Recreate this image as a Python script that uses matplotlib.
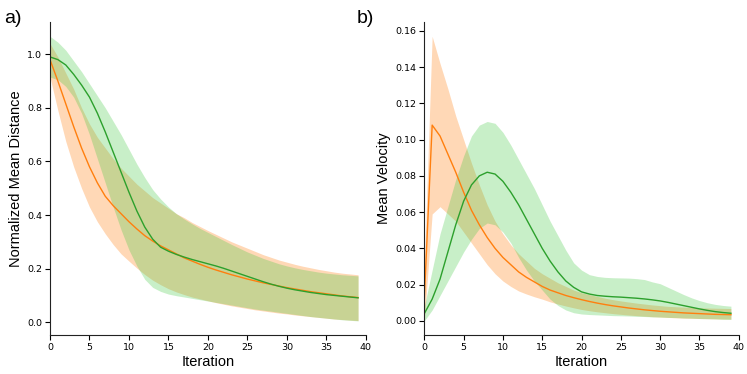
import numpy as np
import matplotlib
matplotlib.use("Agg")
import matplotlib.pyplot as plt

# iterations 0..39
iterations = list(range(40))

# a) normalized mean distance
dist_orange_mean = [0.98, 0.90, 0.815, 0.73, 0.65, 0.58, 0.52, 0.47, 0.435, 0.405,
                    0.375, 0.348, 0.323, 0.303, 0.285, 0.27, 0.255, 0.24, 0.228, 0.216,
                    0.205, 0.195, 0.186, 0.177, 0.169, 0.161, 0.154, 0.147, 0.141, 0.135,
                    0.129, 0.124, 0.119, 0.114, 0.110, 0.106, 0.102, 0.098, 0.095, 0.092]
dist_orange_lo = [0.915, 0.79, 0.675, 0.58, 0.50, 0.43, 0.375, 0.33, 0.29, 0.255,
                  0.228, 0.202, 0.178, 0.157, 0.14, 0.125, 0.113, 0.103, 0.094, 0.087,
                  0.08, 0.073, 0.067, 0.061, 0.056, 0.051, 0.046, 0.042, 0.038, 0.034,
                  0.031, 0.027, 0.024, 0.021, 0.018, 0.015, 0.012, 0.010, 0.008, 0.006]
dist_orange_hi = [1.04, 0.99, 0.93, 0.87, 0.80, 0.74, 0.69, 0.65, 0.61, 0.575,
                  0.545, 0.515, 0.49, 0.465, 0.445, 0.425, 0.405, 0.39, 0.372, 0.357,
                  0.342, 0.328, 0.314, 0.300, 0.288, 0.276, 0.264, 0.252, 0.242, 0.232,
                  0.224, 0.216, 0.209, 0.203, 0.197, 0.192, 0.187, 0.183, 0.180, 0.177]
dist_green_mean = [0.99, 0.98, 0.96, 0.925, 0.885, 0.84, 0.78, 0.71, 0.635, 0.56,
                   0.485, 0.415, 0.355, 0.31, 0.28, 0.265, 0.253, 0.243, 0.234, 0.226,
                   0.218, 0.21, 0.201, 0.191, 0.181, 0.171, 0.161, 0.151, 0.142, 0.134,
                   0.127, 0.121, 0.116, 0.111, 0.107, 0.103, 0.100, 0.097, 0.094, 0.091]
dist_green_lo = [0.915, 0.905, 0.88, 0.84, 0.78, 0.70, 0.61, 0.52, 0.43, 0.345,
                 0.27, 0.21, 0.16, 0.13, 0.115, 0.105, 0.099, 0.094, 0.089, 0.084,
                 0.079, 0.074, 0.069, 0.064, 0.059, 0.054, 0.049, 0.045, 0.041, 0.037,
                 0.033, 0.029, 0.025, 0.021, 0.018, 0.015, 0.012, 0.009, 0.007, 0.005]
dist_green_hi = [1.067, 1.045, 1.015, 0.975, 0.935, 0.89, 0.845, 0.80, 0.75, 0.70,
                 0.645, 0.59, 0.54, 0.495, 0.46, 0.43, 0.405, 0.385, 0.367, 0.35,
                 0.335, 0.32, 0.305, 0.29, 0.276, 0.262, 0.25, 0.238, 0.228, 0.218,
                 0.21, 0.203, 0.197, 0.192, 0.187, 0.183, 0.18, 0.177, 0.175, 0.173]

# b) mean velocity
vel_orange_mean = [0.012, 0.108, 0.102, 0.092, 0.082, 0.071, 0.061, 0.053, 0.046, 0.040,
                   0.035, 0.031, 0.027, 0.024, 0.0215, 0.019, 0.017, 0.0155, 0.014, 0.0128,
                   0.0117, 0.0107, 0.0098, 0.009, 0.0083, 0.0077, 0.0071, 0.0066, 0.0061, 0.0057,
                   0.0053, 0.005, 0.0047, 0.0044, 0.0042, 0.004, 0.0038, 0.0036, 0.0035, 0.0034]
vel_orange_lo = [0.0, 0.059, 0.063, 0.059, 0.055, 0.049, 0.043, 0.037, 0.031, 0.026,
                 0.022, 0.019, 0.0165, 0.0148, 0.0133, 0.012, 0.0105, 0.0093, 0.0082, 0.0072,
                 0.0063, 0.0056, 0.005, 0.0045, 0.004, 0.0036, 0.0032, 0.0029, 0.0026, 0.0023,
                 0.0021, 0.0019, 0.0017, 0.0015, 0.0014, 0.0013, 0.0012, 0.0011, 0.001, 0.001]
vel_orange_hi = [0.03, 0.157, 0.142, 0.128, 0.113, 0.100, 0.087, 0.075, 0.064, 0.055,
                 0.048, 0.042, 0.037, 0.033, 0.029, 0.026, 0.0235, 0.021, 0.019, 0.017,
                 0.0155, 0.0145, 0.0135, 0.0125, 0.0117, 0.011, 0.0104, 0.0098, 0.0093, 0.0088,
                 0.0084, 0.008, 0.0078, 0.0076, 0.0074, 0.0072, 0.0071, 0.007, 0.0069, 0.0068]
vel_green_mean = [0.004, 0.012, 0.023, 0.038, 0.053, 0.066, 0.075, 0.080, 0.082, 0.081,
                  0.077, 0.071, 0.064, 0.056, 0.048, 0.040, 0.033, 0.027, 0.022, 0.0185,
                  0.016, 0.0148, 0.014, 0.0136, 0.0133, 0.0131, 0.0128, 0.0125, 0.0121, 0.0116,
                  0.0110, 0.0102, 0.0093, 0.0084, 0.0075, 0.0066, 0.0058, 0.0051, 0.0046, 0.0042]
vel_green_lo = [0.0, 0.006, 0.014, 0.022, 0.030, 0.038, 0.045, 0.051, 0.054, 0.053,
                0.049, 0.043, 0.035, 0.028, 0.022, 0.017, 0.012, 0.0085, 0.006, 0.0045,
                0.0038, 0.0035, 0.0033, 0.0031, 0.0029, 0.0028, 0.0027, 0.0025, 0.0024, 0.0022,
                0.0021, 0.0019, 0.0018, 0.0016, 0.0015, 0.0013, 0.0012, 0.0011, 0.0009, 0.0008]
vel_green_hi = [0.008, 0.028, 0.048, 0.063, 0.078, 0.091, 0.102, 0.108, 0.110, 0.109,
                0.104, 0.097, 0.089, 0.081, 0.073, 0.064, 0.055, 0.047, 0.039, 0.032,
                0.028, 0.0255, 0.0245, 0.024, 0.0238, 0.0237, 0.0236, 0.0233, 0.0228, 0.0215,
                0.0205, 0.0185, 0.0165, 0.0145, 0.0127, 0.0112, 0.0100, 0.0091, 0.0085, 0.0081]

ORANGE = '#ff7f0e'
GREEN = '#2ca02c'
LABEL_FONT = 'Liberation Sans'

fig = plt.figure(figsize=(7.47, 3.74), dpi=100)
ax_a = fig.add_axes([0.0669, 0.104, 0.423, 0.837])
ax_b = fig.add_axes([0.568, 0.104, 0.421, 0.837])


def draw_panel(ax, o_mean, o_lo, o_hi, g_mean, g_lo, g_hi, ylabel):
    ax.fill_between(iterations, o_lo, o_hi, color=ORANGE, alpha=0.3, linewidth=0)
    ax.fill_between(iterations, g_lo, g_hi, color='#3cc83c', alpha=0.28, linewidth=0)
    ax.plot(iterations, o_mean, color=ORANGE, linewidth=1.0)
    ax.plot(iterations, g_mean, color=GREEN, linewidth=1.0)
    ax.set_xlim(0, 40)
    ax.set_xticks(range(0, 41, 5))
    ax.spines['top'].set_visible(False)
    ax.spines['right'].set_visible(False)
    for side in ('left', 'bottom'):
        ax.spines[side].set_linewidth(0.8)
        ax.spines[side].set_color('#222222')
    ax.tick_params(labelsize=6.8, length=3.5, width=0.8, pad=2)
    ax.set_xlabel('Iteration', fontsize=10.5, family=LABEL_FONT, labelpad=2)
    ax.set_ylabel(ylabel, fontsize=10.5, family=LABEL_FONT, labelpad=3)


draw_panel(ax_a, dist_orange_mean, dist_orange_lo, dist_orange_hi,
           dist_green_mean, dist_green_lo, dist_green_hi, 'Normalized Mean Distance')
draw_panel(ax_b, vel_orange_mean, vel_orange_lo, vel_orange_hi,
           vel_green_mean, vel_green_lo, vel_green_hi, 'Mean Velocity')
ax_a.set_yticks([0.0, 0.2, 0.4, 0.6, 0.8, 1.0])
ax_b.set_yticks([0.0, 0.02, 0.04, 0.06, 0.08, 0.10, 0.12, 0.14, 0.16])
ax_b.set_yticklabels([f'{v:.2f}' for v in ax_b.get_yticks()])

fig.text(0.005, 0.95, 'a)', fontsize=14, family=LABEL_FONT, va='center', ha='left')
fig.text(0.478, 0.95, 'b)', fontsize=14, family=LABEL_FONT, va='center', ha='left')

fig.savefig('out.png', dpi=100)
